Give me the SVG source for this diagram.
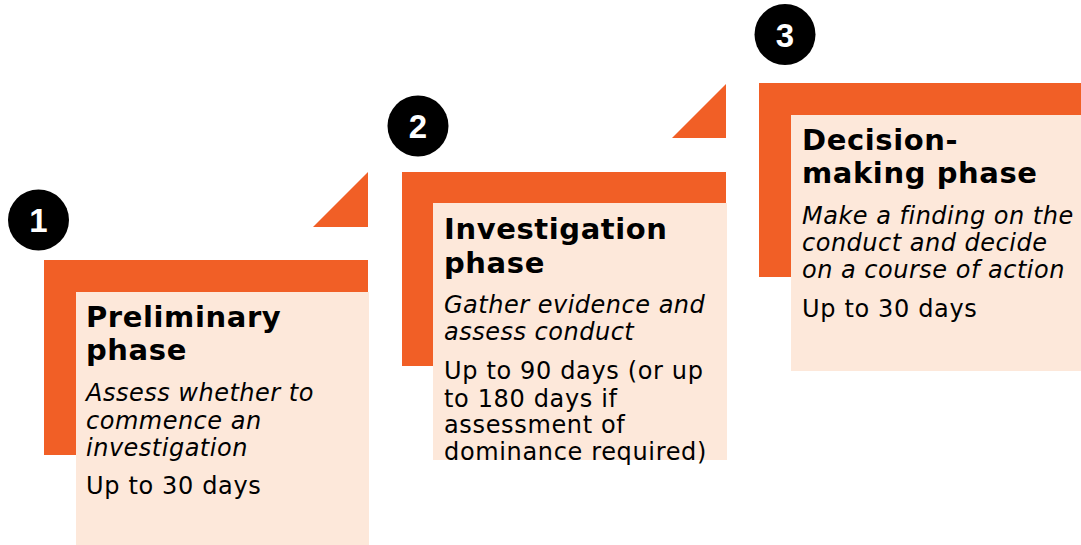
<svg xmlns="http://www.w3.org/2000/svg" width="1081" height="545" viewBox="0 0 1081 545">
<style>
.or{fill:#F15F26}
.cr{fill:#FDE8DA}
.num{fill:#000}
.nt{font-family:"Liberation Sans",Arial,sans-serif;font-weight:bold;font-size:33px;fill:#fff;text-anchor:middle}
.ti{font-family:"DejaVu Sans",Verdana,sans-serif;font-weight:bold;font-size:29px;letter-spacing:0.6px;fill:#000}
.it{font-family:"DejaVu Sans",Verdana,sans-serif;font-style:italic;font-size:24px;letter-spacing:0.5px;fill:#000}
.bd{font-family:"DejaVu Sans",Verdana,sans-serif;font-size:24px;letter-spacing:0.65px;fill:#000}
</style>
<rect width="1081" height="545" fill="#fff"/>
<g id="connectors">
<polygon class="or" points="313,227 368,172 368,227"/>
<polygon class="or" points="672,138 726,84 726,138"/>
</g>
<g id="phase1">
<rect class="or" x="44" y="260" width="324" height="195"/>
<rect class="cr" x="76" y="292" width="293" height="253"/>
<circle class="num" cx="38.5" cy="220" r="30.5"/>
<text class="nt" x="38.5" y="232">1</text>
<text class="ti" x="86" y="327">Preliminary</text>
<text class="ti" x="86" y="360">phase</text>
<text class="it" x="86" y="401">Assess whether to</text>
<text class="it" x="86" y="428.5">commence an</text>
<text class="it" x="86" y="456">investigation</text>
<text class="bd" x="86" y="494">Up to 30 days</text>
</g>
<g id="phase2">
<rect class="or" x="402" y="172" width="324" height="194"/>
<rect class="cr" x="433" y="203" width="294" height="257"/>
<circle class="num" cx="418" cy="126" r="30.5"/>
<text class="nt" x="418" y="138">2</text>
<text class="ti" x="444" y="239">Investigation</text>
<text class="ti" x="444" y="272.5">phase</text>
<text class="it" x="444" y="313">Gather evidence and</text>
<text class="it" x="444" y="340">assess conduct</text>
<text class="bd" x="444" y="379">Up to 90 days (or up</text>
<text class="bd" x="444" y="406.5">to 180 days if</text>
<text class="bd" x="444" y="433">assessment of</text>
<text class="bd" x="444" y="460">dominance required)</text>
</g>
<g id="phase3">
<rect class="or" x="759" y="83" width="322" height="194"/>
<rect class="cr" x="791" y="115" width="290" height="256"/>
<circle class="num" cx="785" cy="34.5" r="30.5"/>
<text class="nt" x="785" y="46.5">3</text>
<text class="ti" x="802" y="150">Decision-</text>
<text class="ti" x="802" y="183">making phase</text>
<text class="it" x="802" y="224">Make a finding on the</text>
<text class="it" x="802" y="251">conduct and decide</text>
<text class="it" x="802" y="278">on a course of action</text>
<text class="bd" x="802" y="317">Up to 30 days</text>
</g>
</svg>
